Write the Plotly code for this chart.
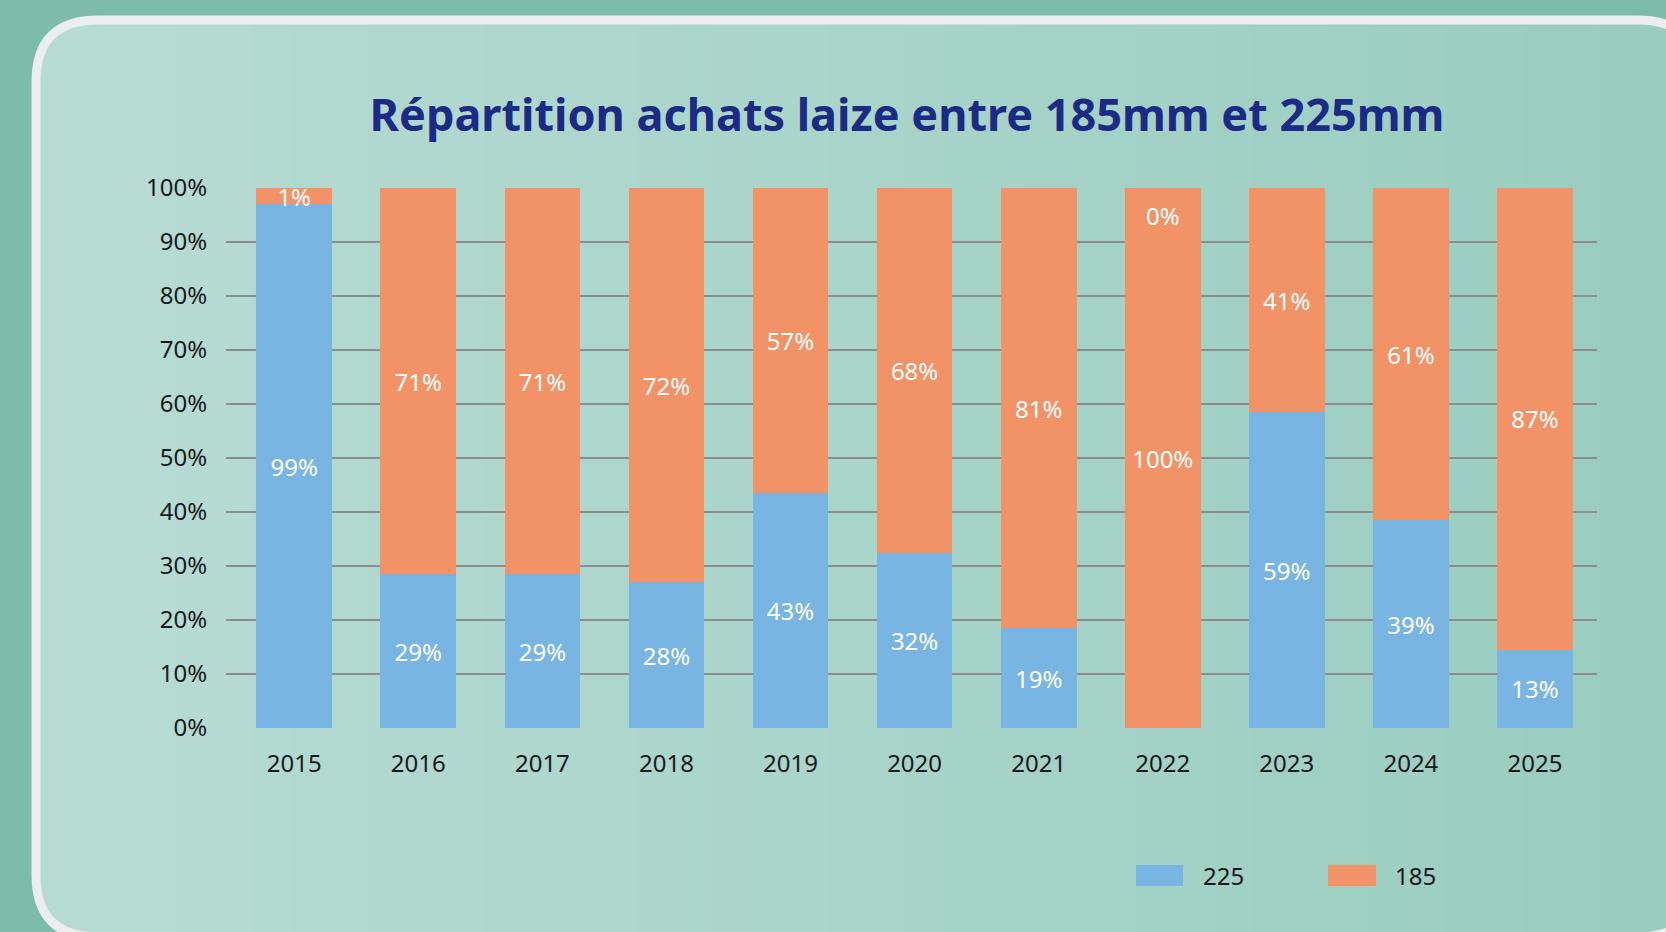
import plotly.graph_objects as go

years = ["2015", "2016", "2017", "2018", "2019", "2020", "2021", "2022", "2023", "2024", "2025"]
share_225 = [0.97, 0.285, 0.285, 0.27, 0.435, 0.325, 0.185, 0.0, 0.585, 0.385, 0.145]
share_185 = [0.03, 0.715, 0.715, 0.73, 0.565, 0.675, 0.815, 1.0, 0.415, 0.615, 0.855]
labels_225 = ["99%", "29%", "29%", "28%", "43%", "32%", "19%", "0%", "59%", "39%", "13%"]
labels_185 = ["1%", "71%", "71%", "72%", "57%", "68%", "81%", "100%", "41%", "61%", "87%"]
series_names = ["225", "185"]
series_colors = ["#79b5e3", "#f29367"]
y_ticks = [0, 0.1, 0.2, 0.3, 0.4, 0.5, 0.6, 0.7, 0.8, 0.9, 1.0]
y_tick_text = ["0%", "10%", "20%", "30%", "40%", "50%", "60%", "70%", "80%", "90%", "100%"]

W, H = 1666, 932
L, R, T, B = 226, 69, 188, 204
PW, PH = W - L - R, H - T - B


def px(x):
    return (x - L) / PW


def py(y):
    return (H - B - y) / PH


FONT = "Noto Sans"

fig = go.Figure()
zero_labels = []
for name, color, vals, labs in [(series_names[0], series_colors[0], share_225, labels_225),
                                (series_names[1], series_colors[1], share_185, labels_185)]:
    txt = [lab if v > 0 else "" for v, lab in zip(vals, labs)]
    for i, (v, lab) in enumerate(zip(vals, labs)):
        if v == 0:
            zero_labels.append((i, lab))
    fig.add_trace(go.Bar(
        x=years, y=vals, name=name, marker=dict(color=color, line=dict(width=0)),
        text=txt, textposition="inside", insidetextanchor="middle", textangle=0,
        textfont=dict(color="white", size=24, family=FONT),
        showlegend=False, hoverinfo="skip",
    ))

annotations = []
for i, lab in zero_labels:
    annotations.append(dict(x=i, y=0.95, xref="x", yref="y", text=lab, showarrow=False,
                            font=dict(color="white", size=24, family=FONT)))

legend_items = [(1136, 1183, 1201), (1328, 1376, 1393)]
shapes = []

# rounded card with a soft horizontal gradient
r = 62
x0, x1, y0, y1 = 36, 1700, 20, 937
c0 = (182, 219, 210)
c1 = (154, 205, 192)


def rgb(c):
    return "rgb(%d,%d,%d)" % c


card_path = (f"M{px(x0)},{py(y0 + r)} Q{px(x0)},{py(y0)} {px(x0 + r)},{py(y0)} "
             f"L{px(x1 - r)},{py(y0)} Q{px(x1)},{py(y0)} {px(x1)},{py(y0 + r)} "
             f"L{px(x1)},{py(y1 - r)} Q{px(x1)},{py(y1)} {px(x1 - r)},{py(y1)} "
             f"L{px(x0 + r)},{py(y1)} Q{px(x0)},{py(y1)} {px(x0)},{py(y1 - r)} Z")
mid = (x0 + x1) / 2
right_path = (f"M{px(mid)},{py(y0)} L{px(x1 - r)},{py(y0)} Q{px(x1)},{py(y0)} {px(x1)},{py(y0 + r)} "
              f"L{px(x1)},{py(y1 - r)} Q{px(x1)},{py(y1)} {px(x1 - r)},{py(y1)} "
              f"L{px(mid)},{py(y1)} Z")
shapes.append(dict(type="path", xref="paper", yref="paper", path=card_path,
                   fillcolor=rgb(c0), line=dict(width=0), layer="below"))
shapes.append(dict(type="path", xref="paper", yref="paper", path=right_path,
                   fillcolor=rgb(c1), line=dict(width=0), layer="below"))
n = 40
gx0, gx1 = x0 + r, x1 - r
for i in range(n):
    a = gx0 + (gx1 - gx0) * i / n
    b = gx0 + (gx1 - gx0) * (i + 1) / n + 1
    t = i / (n - 1)
    col = tuple(round(c0[k] + (c1[k] - c0[k]) * t) for k in range(3))
    shapes.append(dict(type="rect", xref="paper", yref="paper", x0=px(a), x1=px(b),
                       y0=py(y1), y1=py(y0), fillcolor=rgb(col), line=dict(width=0), layer="below"))
shapes.append(dict(type="path", xref="paper", yref="paper", path=card_path,
                   fillcolor="rgba(0,0,0,0)", line=dict(width=9, color="#eceeed"), layer="below"))

for (sx0, sx1, tx), name, color in zip(legend_items, series_names, series_colors):
    shapes.append(dict(type="rect", xref="paper", yref="paper", x0=px(sx0), x1=px(sx1),
                       y0=py(886), y1=py(865), fillcolor=color, line=dict(width=0)))
    annotations.append(dict(x=px(tx), y=py(875), xref="paper", yref="paper", text=name,
                            showarrow=False, xanchor="left", yanchor="middle",
                            font=dict(color="#1a1a1a", size=24, family=FONT)))

fig.update_layout(
    width=W, height=H,
    margin=dict(l=L, r=R, t=T, b=B, pad=0),
    barmode="stack", bargap=0.39,
    paper_bgcolor="#7dbcaa", plot_bgcolor="rgba(0,0,0,0)",
    title=dict(text="<b>Répartition achats laize entre 185mm et 225mm</b>",
               xref="container", yref="container",
               x=907 / W, xanchor="center", y=1 - 115 / H, yanchor="middle",
               font=dict(family=FONT, size=45, color="#1b2a84")),
    uniformtext=dict(minsize=24, mode="show"),
    showlegend=False,
    shapes=shapes,
    annotations=annotations,
    font=dict(family=FONT),
)
fig.update_xaxes(type="category", range=[-0.55, 10.5], showgrid=False, zeroline=False, showline=False,
                 ticks="outside", ticklen=14, tickcolor="rgba(0,0,0,0)",
                 tickfont=dict(size=24, color="#1a1a1a", family=FONT), fixedrange=True)
fig.update_yaxes(range=[0, 1.0], tickvals=y_ticks, ticktext=y_tick_text,
                 showgrid=True, gridcolor="#8c8c8c", gridwidth=2, zeroline=False,
                 showline=False, ticks="outside", ticklen=13, tickcolor="rgba(0,0,0,0)",
                 tickfont=dict(size=24, color="#1a1a1a", family=FONT), fixedrange=True)

fig.write_html("out.html", config={"displayModeBar": False},
               post_script="document.body.style.margin='0';document.body.style.overflow='hidden';")
